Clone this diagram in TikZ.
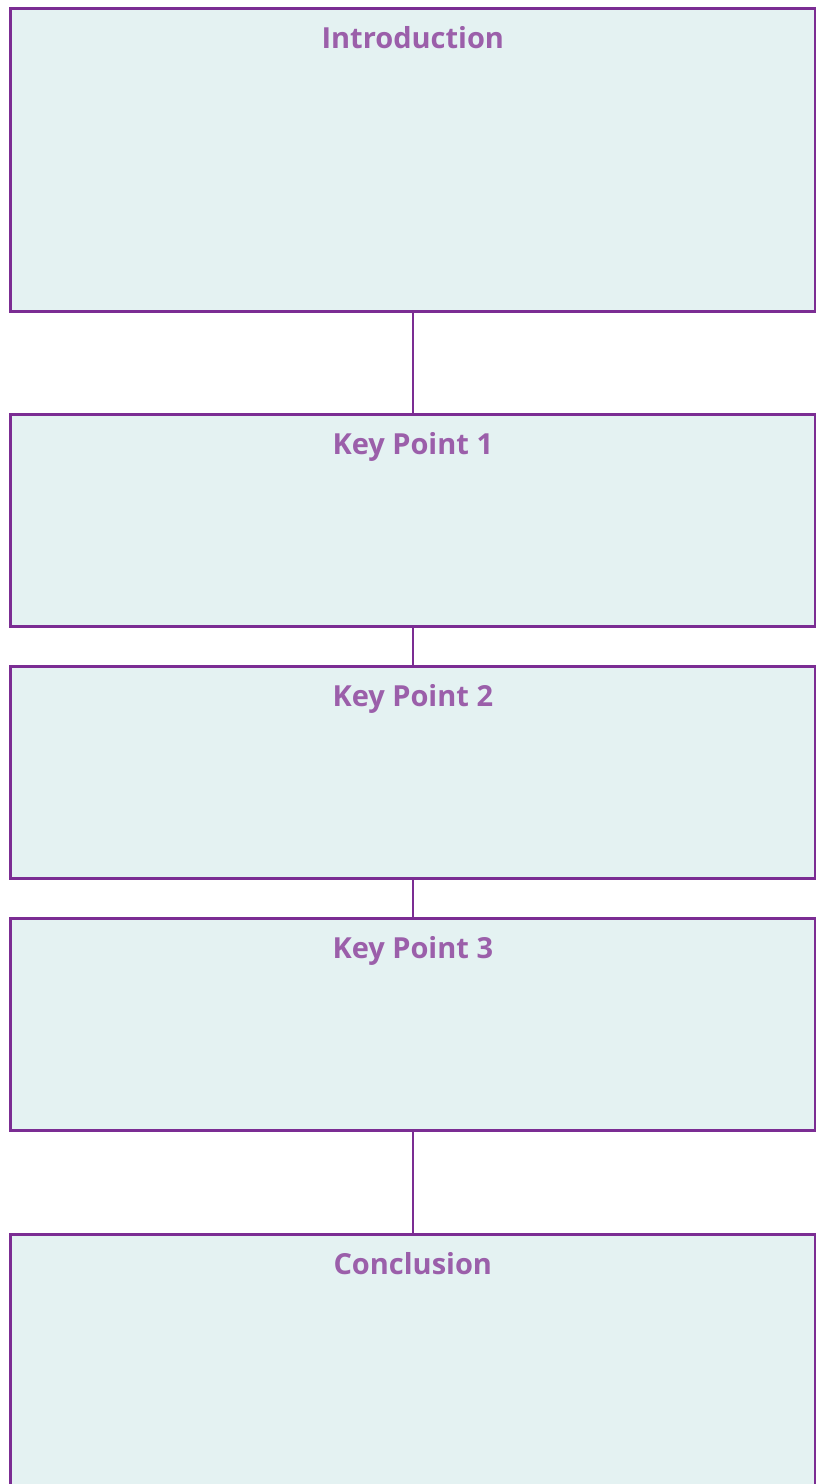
\documentclass[tikz,border=0pt]{standalone}
\usepackage{fontspec}
\setmainfont{Open Sans}
\definecolor{boxfill}{HTML}{E4F2F2}
\definecolor{boxline}{HTML}{7B2D93}
\definecolor{titlecol}{HTML}{9B5FAA}
\tikzset{
  panel/.style={draw=boxline, line width=2.6pt, fill=boxfill, rectangle, inner sep=0pt, minimum width=805pt, anchor=north west},
  paneltitle/.style={text=titlecol, font=\fontsize{29}{32}\selectfont\bfseries, anchor=base, inner sep=0pt},
  link/.style={draw=boxline, line width=2.6pt}
}
\begin{document}
\begin{tikzpicture}[x=1pt,y=1pt]
\useasboundingbox (0,0) rectangle (815,-1484);
\node[panel, minimum height=303pt] (intro) at (9,-7) {};
\node[panel, minimum height=212pt] (kp1) at (9,-413) {};
\node[panel, minimum height=212pt] (kp2) at (9,-665) {};
\node[panel, minimum height=212pt] (kp3) at (9,-917) {};
\node[panel, minimum height=262pt] (concl) at (9,-1233) {};
\draw[link] (intro.south) -- (kp1.north);
\draw[link] (kp1.south) -- (kp2.north);
\draw[link] (kp2.south) -- (kp3.north);
\draw[link] (kp3.south) -- (concl.north);
\node[paneltitle] (tintro) at ([yshift=-41pt]intro.north) {Introduction};
\node[paneltitle] (tkp1) at ([yshift=-41pt]kp1.north) {Key Point 1};
\node[paneltitle] (tkp2) at ([yshift=-41pt]kp2.north) {Key Point 2};
\node[paneltitle] (tkp3) at ([yshift=-41pt]kp3.north) {Key Point 3};
\node[paneltitle] (tconcl) at ([yshift=-41pt]concl.north) {Conclusion};
\end{tikzpicture}
\end{document}
